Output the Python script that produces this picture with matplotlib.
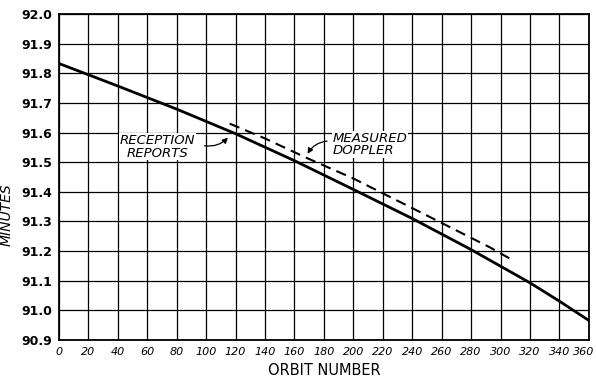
import matplotlib
matplotlib.use('Agg')
import matplotlib.pyplot as plt
from matplotlib.transforms import ScaledTranslation

# solid curve: reception reports
orbit = [0, 40, 80, 120, 160, 200, 240, 280, 320, 340, 360]
minutes = [91.833, 91.757, 91.679, 91.596, 91.505, 91.408, 91.310, 91.205, 91.093, 91.031, 90.966]

# dashed curve: measured doppler
orbit_dop = [116, 140, 168, 200, 240, 260, 293, 308]
minutes_dop = [91.630, 91.580, 91.515, 91.445, 91.345, 91.295, 91.212, 91.170]

x_ticks = list(range(0, 361, 20))
y_ticks = [90.9 + 0.1 * i for i in range(12)]

fig = plt.figure(figsize=(5.96, 3.81), dpi=100)
ax = fig.add_axes([0.099, 0.1076, 0.889, 0.8556])

ax.plot(orbit, minutes, color='black', lw=2.0, zorder=3)
ax.plot(orbit_dop, minutes_dop, color='black', lw=1.5, ls=(0, (5, 3)), zorder=3)

ax.set_xlim(0, 360)
ax.set_ylim(90.9, 92.0)
ax.set_xticks(x_ticks)
ax.set_yticks(y_ticks)
ax.set_xticklabels([str(v) for v in x_ticks], fontsize=8, style='italic')
ax.set_yticklabels(['%.1f' % v for v in y_ticks], fontsize=9, fontweight='bold')
ax.tick_params(length=0, pad=5)
ax.grid(True, color='black', lw=0.9)
for s in ax.spines.values():
    s.set_linewidth(1.3)

# keep the last x label inside the figure
last = ax.get_xticklabels()[-1]
last.set_transform(last.get_transform() + ScaledTranslation(-5 / 100, 0, fig.dpi_scale_trans))

ax.set_xlabel('ORBIT NUMBER', fontsize=10.5, labelpad=4)
ax.set_ylabel('MINUTES', fontsize=10, style='italic')
ax.yaxis.set_label_coords(-0.085, 0.383)

box = dict(facecolor='white', edgecolor='none', pad=0.5)
ax.text(67, 91.552, 'RECEPTION\nREPORTS', fontsize=9.5, style='italic',
        ha='center', va='center', linespacing=0.95, bbox=box, zorder=4)
ax.annotate('', xy=(116, 91.590), xytext=(97, 91.557),
            arrowprops=dict(arrowstyle='-|>', color='black', lw=0.9,
                            connectionstyle='arc3,rad=0.3', mutation_scale=8), zorder=5)

ax.text(186, 91.560, 'MEASURED\nDOPPLER', fontsize=9.5, style='italic',
        ha='left', va='center', linespacing=0.95, bbox=box, zorder=4)
ax.annotate('', xy=(168, 91.520), xytext=(184, 91.572),
            arrowprops=dict(arrowstyle='-|>', color='black', lw=0.9,
                            connectionstyle='arc3,rad=0.3', mutation_scale=8), zorder=5)

fig.savefig('out.png', dpi=100)
